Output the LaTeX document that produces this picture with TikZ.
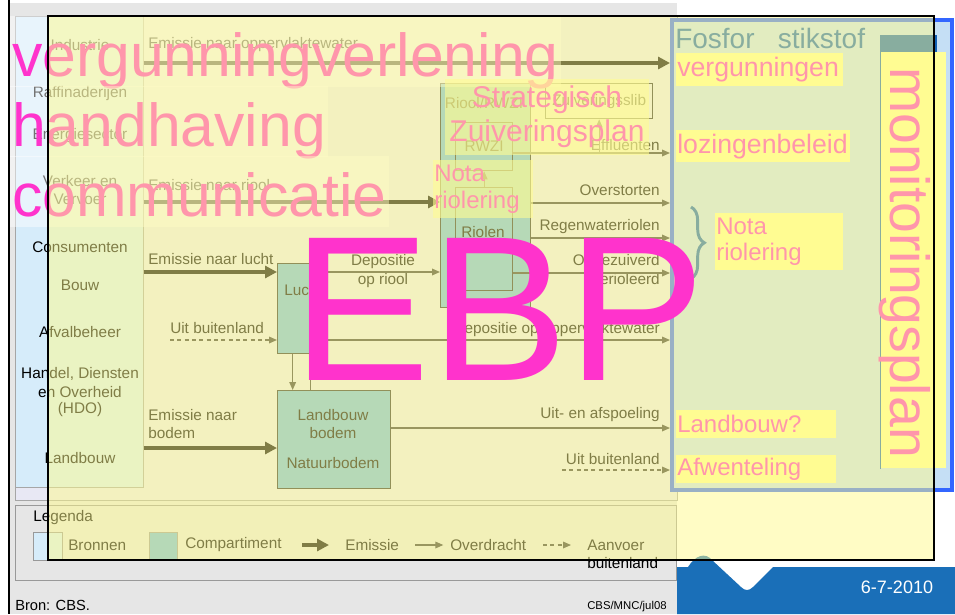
\documentclass[tikz,border=0pt]{standalone}
\usepackage{fontspec}
\setmainfont{Liberation Sans}
\usetikzlibrary{arrows.meta,decorations.pathreplacing}

\definecolor{cbsgrijs}{HTML}{E6E6E6}
\definecolor{cbsvlak}{HTML}{E8E8F4}
\definecolor{bronblauw}{HTML}{D6ECFA}
\definecolor{compgroen}{HTML}{6EB9E4}
\definecolor{waasgeel}{HTML}{FFFA8C}
\definecolor{roze}{HTML}{FF33CC}
\definecolor{markeer}{HTML}{FFFF99}
\definecolor{kaderblauw}{HTML}{3366FF}
\definecolor{vlakblauw}{HTML}{C5DFF5}
\definecolor{planblauw}{HTML}{1160B4}
\definecolor{voetblauw}{HTML}{1A6FB8}

\tikzset{
  cbs/.style={font={\fontsize{11.5}{14}\selectfont}, text=black, inner sep=0pt},
  vak/.style={draw=black!85, line width=1pt, fill=compgroen, anchor=north west, inner sep=0pt},
  emissie/.style={draw=black, line width=3pt, -{Triangle[length=9pt,width=9pt]}},
  overdracht/.style={draw=black!80, line width=0.9pt, -{Triangle[length=6pt,width=5pt]}},
  aanvoer/.style={overdracht, dash pattern=on 3pt off 2.5pt},
  beleid/.style={font={\fontsize{45.5}{50}\selectfont}, text=roze, fill=white, fill opacity=0.45, text opacity=1, anchor=base west, inner xsep=1.5pt, inner ysep=0pt, text height=45pt, text depth=8.25pt},
  markering/.style={fill=markeer, text=roze, anchor=north west, align=left, inner xsep=0.75pt, inner ysep=0pt},
}

\begin{document}
\begin{tikzpicture}[x=0.75pt, y=-0.75pt]
  \path[use as bounding box, fill=white] (0,0) rectangle (955,614);

  % CBS schema
  \fill[cbsgrijs] (10,3) rectangle (677,614);
  \draw[line width=1.5pt] (9,0) -- (9,614);
  \node[draw=black!35, fill=cbsvlak, anchor=north west, minimum width=496.5pt, minimum height=363pt, inner sep=0pt] (paneel) at (15,16) {};
  \node[draw=black!35, fill=bronblauw, anchor=north west, minimum width=96pt, minimum height=353.25pt, inner sep=0pt] (bron) at (15,16) {};
  \foreach \y/\t in {45/Industrie, 94/Raffinaderijen, 136/Energiesector, 181/Verkeer en, 199/Vervoer, 247/Consumenten, 285/Bouw, 332/Afvalbeheer, 374/{Handel, Diensten}, 392/en Overheid, 410/(HDO), 458/Landbouw}
    \node[cbs] (bronlabel\y) at (80,\y) {\t};

  % compartimenten
  \node[vak, minimum width=37.5pt, minimum height=67.5pt] (lucht) at (277,263) {};
  \node[cbs] (luchtlabel) at (303,290) {Lucht};
  \node[vak, minimum width=84.75pt, minimum height=73.5pt] (bodem) at (277,390) {};
  \foreach \y/\t in {415/Landbouw, 433/bodem, 463/Natuurbodem}
    \node[cbs] (bodemlabel\y) at (333,\y) {\t};
  \node[vak, minimum width=67.5pt, minimum height=168pt] (riolering) at (440,83) {};
  \node[cbs] (rioollabel) at (484,103) {Riool/RWZI};
  \node[vak, fill=none, minimum width=42.75pt, minimum height=36pt] (rwzi) at (455,122) {};
  \node[cbs] (rwzilabel) at (rwzi.center) {RWZI};
  \node[vak, fill=none, minimum width=42.75pt, minimum height=77.25pt] (riolen) at (455,187) {};
  \node[cbs] (riolenlabel) at (483,232) {Riolen};
  \node[vak, fill=none, minimum width=80.25pt, minimum height=26.25pt] (slib) at (545,83) {};
  \node[cbs] (sliblabel) at (slib.center) {Zuiveringsslib};

  % stromen
  \foreach \n/\y in {opp/63, riool/202, lucht/272, buit/340, bodem/448, eff/153, over/203, regen/238, ongez/273, afsp/428}
    \coordinate (h\n) at (0,\y);
  \coordinate (buitlinks) at (170,340);
  \coordinate (buitrechts) at (562,470);
  \foreach \x/\y/\t [count=\i] in {148/45/Emissie naar oppervlaktewater, 148/185/Emissie naar riool, 148/259/Emissie naar lucht, 170/328/Uit buitenland, 148/415/Emissie naar, 148/433/bodem}
    \node[cbs, anchor=west] (emlabel\i) at (\x,\y) {\t};
  \foreach \y/\t [count=\i] in {145/Effluenten, 190/Overstorten, 227/Regenwaterriolen, 262/Ongezuiverd, 281/gerioleerd, 330/Depositie op oppervlaktewater, 415/Uit- en afspoeling, 459/Uit buitenland}
    \node[cbs, anchor=east] (uitlabel\i) at (660,\y) {\t};
  \node[cbs] (deplabel1) at (383,262) {Depositie};
  \node[cbs] (deplabel2) at (383,281) {op riool};

  % rechter vlak
  \node[draw=kaderblauw, line width=3pt, fill=vlakblauw, anchor=north west, minimum width=210pt, minimum height=352.5pt, inner sep=0pt] (rechts) at (670,18) {};

  \draw[emissie] (bron.east |- hopp) -- (rechts.west |- hopp);
  \draw[emissie] (bron.east |- hriool) -- (riolering.west |- hriool);
  \draw[emissie] (bron.east |- hlucht) -- (lucht.west |- hlucht);
  \draw[aanvoer] (buitlinks) -- (lucht.west |- buitlinks);
  \draw[emissie] (bron.east |- hbodem) -- (bodem.west |- hbodem);
  \draw[overdracht] (lucht.east |- hlucht) -- (riolering.west |- hlucht);
  \draw[overdracht] (lucht.east |- hbuit) -- (rechts.west |- hbuit);
  \draw[overdracht] ([xshift=-7.5pt]lucht.south) -- ([xshift=-7.5pt]lucht.south |- bodem.north);
  \draw[black!80, line width=0.9pt] ([xshift=6pt]lucht.south) -- ([xshift=6pt]lucht.south |- bodem.north);
  \draw[overdracht] (bodem.east |- hafsp) -- (rechts.west |- hafsp);
  \draw[aanvoer] (buitrechts) -- (rechts.west |- buitrechts);
  \draw[overdracht] (rwzi.east |- heff) -- (rechts.west |- heff);
  \draw[overdracht] (slib.south |- heff) -- (slib.south);
  \draw[overdracht] (riolering.east |- hover) -- (rechts.west |- hover);
  \draw[overdracht] (riolering.east |- hregen) -- (rechts.west |- hregen);
  \draw[overdracht] (riolen.east |- hongez) -- (rechts.west |- hongez);
  \draw[overdracht] (riolen.north) -- (rwzi.south);

  % legenda
  \node[draw=black!40, line width=0.8pt, anchor=north west, minimum width=495.75pt, minimum height=56.25pt, inner sep=0pt] (legenda) at (15,505) {};
  \node[cbs, anchor=west] (legkop) at (33,518) {Legenda};
  \node[draw=black!40, fill=bronblauw, anchor=north west, minimum width=21.75pt, minimum height=21pt, inner sep=0pt] (legbron) at (33,532) {};
  \node[cbs, anchor=west] (legbrontekst) at (68,545) {Bronnen};
  \node[vak, draw=black!40, minimum width=21pt, minimum height=21pt] (legcomp) at (149,532) {};
  \node[cbs, anchor=west] (legcomptekst) at (185,545) {Compartiment};
  \node[cbs, anchor=west] (legem) at (345,545) {Emissie};
  \node[cbs, anchor=west] (legover) at (450,545) {Overdracht};
  \node[cbs, anchor=west] (legaan) at (587,545) {Aanvoer};
  \node[cbs, anchor=west] (legbuit) at (587,563) {buitenland};
  \draw[emissie] ([xshift=-32pt]legem.west) -- ([xshift=-12pt]legem.west);
  \draw[overdracht] ([xshift=-26pt]legover.west) -- ([xshift=-5pt]legover.west);
  \draw[aanvoer] ([xshift=-33pt]legaan.west) -- ([xshift=-12pt]legaan.west);
  \node[cbs, anchor=west, font={\fontsize{11}{13}\selectfont}] (bronvermelding) at (15,605) {Bron: CBS.};
  \node[cbs, anchor=west, font={\fontsize{8.5}{10}\selectfont}] (code) at (587,607) {CBS/MNC/jul08};

  % voettekst
  \fill[voetblauw] (677,614) -- (677,567) -- (688,567) .. controls (695,556) and (705,551) .. (713,561) -- (741,587) .. controls (745,591) and (749,591) .. (753,587) -- (773,567) -- (955,567) -- (955,614) -- cycle;
  \node[text=white, font={\fontsize{13.5}{16}\selectfont}] (datum) at (897,587) {6-7-2010};

  % beleid
  \foreach \t [count=\i] in {vergunningverlening, handhaving, communicatie}
    \node[beleid] (beleid\i) at (10,6+70*\i) {\t};
  \node[fill=markeer, fill opacity=0.6, text opacity=1, text=roze, align=center, font={\fontsize{22.5}{25.5}\selectfont}, inner xsep=3pt, inner ysep=5pt] (zuivplan) at (547,117) {Strategisch\\Zuiveringsplan};
  \node[markering, fill opacity=0.6, text opacity=1, text width=73pt, minimum height=43.5pt, font={\fontsize{18}{20.25}\selectfont}] (notamidden) at (433,160) {Nota\\riolering};

  \node[text=planblauw, anchor=base west, inner sep=0pt, font={\fontsize{21}{24}\selectfont}] (fosfor) at (675,48) {Fosfor\ \ \ stikstof};
  \node[markering, text width=123.75pt, minimum height=24.75pt, font={\fontsize{20}{24}\selectfont}] (vergunningen) at (676,53) {vergunningen};
  \node[markering, text width=129pt, minimum height=24pt, font={\fontsize{20}{24}\selectfont}] (lozingen) at (676,130) {lozingenbeleid};
  \node[markering, text width=94.5pt, minimum height=42.75pt, font={\fontsize{18}{19.5}\selectfont}] (notarechts) at (715,213) {Nota\\riolering};
  \node[markering, text width=118.5pt, minimum height=21pt, font={\fontsize{18}{21}\selectfont}] (landbouw) at (676,410) {Landbouw?};
  \node[markering, text width=118.5pt, minimum height=21pt, font={\fontsize{18}{21}\selectfont}] (afwenteling) at (676,455) {Afwenteling};
  \draw[planblauw, line width=2.2pt, decorate, decoration={brace, amplitude=10pt}] ([shift={(-24,-6)}]notarechts.north west) -- ([shift={(-24,8)}]notarechts.south west);

  \node[fill=markeer, anchor=north west, minimum width=49.5pt, minimum height=312pt, inner sep=0pt] (plan) at (880,52) {};
  \node[fill=planblauw, anchor=north west, minimum width=42.75pt, minimum height=12.75pt, inner sep=0pt] (planband) at (880,35) {};
  \draw[planblauw, line width=0.6pt] (plan.north west) -- (plan.south west);
  \node[text=roze, rotate=-90, anchor=base west, inner sep=0pt, font={\fontsize{41.5}{45}\selectfont}] (monitoring) at (890,67) {monitoringsplan};

  % waas
  \draw[fill=waasgeel, fill opacity=0.5, line width=0.8pt] (48,16) rectangle (934,560);

  \node[text=roze, anchor=base west, inner sep=0pt, font={\fontsize{155}{155}\selectfont}] (ebp) at (292,380) {EBP};
\end{tikzpicture}
\end{document}
